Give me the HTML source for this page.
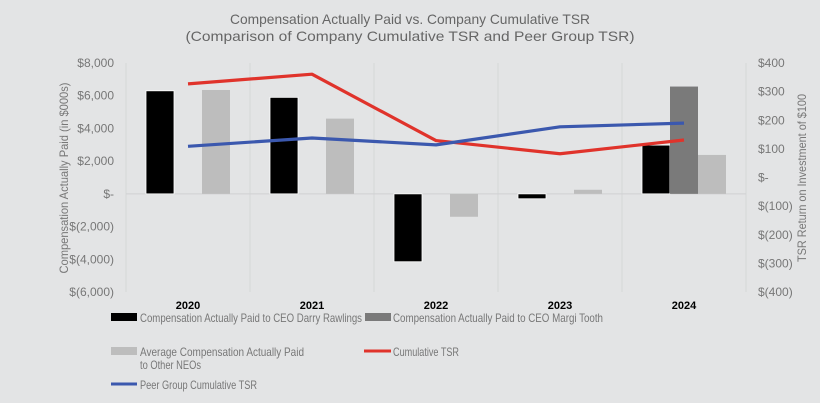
<!DOCTYPE html>
<html><head><meta charset="utf-8"><style>
body{margin:0;background:#e3e4e5;}
svg{display:block;font-family:"Liberation Sans",sans-serif;}
</style></head><body>
<svg id="chart" width="820" height="403" viewBox="0 0 820 403">
<rect width="820" height="403" fill="#e3e4e5"/>
<text x="410" y="24" text-anchor="middle" font-size="14" fill="#666" textLength="360" lengthAdjust="spacingAndGlyphs">Compensation Actually Paid vs. Company Cumulative TSR</text>
<text x="410" y="41" text-anchor="middle" font-size="14" fill="#666" textLength="449" lengthAdjust="spacingAndGlyphs">(Comparison of Company Cumulative TSR and Peer Group TSR)</text>
<g id="grid"></g><g id="bars"></g><g id="lines"></g><g id="axes"></g>
<text transform="translate(68,178) rotate(-90)" text-anchor="middle" font-size="12" fill="#777" textLength="191" lengthAdjust="spacingAndGlyphs">Compensation Actually Paid (in $000s)</text>
<text transform="translate(806,178) rotate(-90)" text-anchor="middle" font-size="12" fill="#777" textLength="168" lengthAdjust="spacingAndGlyphs">TSR Return on Investment of $100</text>
<g>
<rect x="111" y="313" width="26" height="8" fill="#000"/>
<text x="140" y="322" font-size="12" fill="#777" textLength="222" lengthAdjust="spacingAndGlyphs">Compensation Actually Paid to CEO Darry Rawlings</text>
<rect x="365" y="313" width="26" height="8" fill="#7a7a7a"/>
<text x="393" y="322" font-size="12" fill="#777" textLength="210" lengthAdjust="spacingAndGlyphs">Compensation Actually Paid to CEO Margi Tooth</text>
<rect x="111" y="347" width="26" height="8" fill="#bdbdbd"/>
<text x="140" y="356" font-size="12" fill="#777" textLength="164" lengthAdjust="spacingAndGlyphs">Average Compensation Actually Paid</text>
<text x="140" y="369" font-size="12" fill="#777" textLength="61" lengthAdjust="spacingAndGlyphs">to Other NEOs</text>
<line x1="364" y1="351" x2="391" y2="351" stroke="#e0332b" stroke-width="3"/>
<text x="393" y="356" font-size="12" fill="#777" textLength="66" lengthAdjust="spacingAndGlyphs">Cumulative TSR</text>
<line x1="111" y1="384" x2="137" y2="384" stroke="#3b58ae" stroke-width="3"/>
<text x="140" y="389" font-size="12" fill="#777" textLength="117" lengthAdjust="spacingAndGlyphs">Peer Group Cumulative TSR</text>
</g>
</svg>
<script>
const categories=["2020","2021","2022","2023","2024"];
const rawlings=[6300,5900,-4150,-300,2980];
const tooth=[0,0,0,0,6560];
const neos=[6350,4600,-1400,250,2380];
const tsr=[327,361,129,83,131];
const peerTsr=[109,138,114,177,190];
const leftTicks=[8000,6000,4000,2000,0,-2000,-4000,-6000];
const leftTickLabels=["$8,000","$6,000","$4,000","$2,000","$-","$(2,000)","$(4,000)","$(6,000)"];
const rightTicks=[400,300,200,100,0,-100,-200,-300,-400];
const rightTickLabels=["$400","$300","$200","$100","$-","$(100)","$(200)","$(300)","$(400)"];

const NS="http://www.w3.org/2000/svg";
const X0=126,X1=746,YT=63,YB=292;
const catW=(X1-X0)/categories.length;
const yL=v=>YT+(8000-v)/14000*(YB-YT);
const yR=v=>YT+(400-v)/800*(YB-YT);
const xC=i=>X0+catW*(i+0.5);
function mk(tag,attrs,parent){const e=document.createElementNS(NS,tag);for(const k in attrs)e.setAttribute(k,attrs[k]);document.getElementById(parent).appendChild(e);return e;}
for(let i=0;i<=categories.length;i++){
 const g=mk('line',{x1:X0+catW*i,x2:X0+catW*i,y1:YT,y2:YB,stroke:'#d6d7d8','stroke-width':1},'grid');
 
 
}
const zl=mk('line',{x1:X0,x2:X1,y1:yL(0),y2:yL(0),stroke:'#d0d1d2','stroke-width':1},'grid');


const bw=28;
const series=[[rawlings,'#000','bar-rawlings'],[tooth,'#7a7a7a','bar-tooth'],[neos,'#bdbdbd','bar-neos']];
series.forEach((s,si)=>{
 s[0].forEach((v,i)=>{
  if(v===0)return;
  const x=xC(i)-bw*1.5+si*bw;
  const y=Math.min(yL(v),yL(0)),h=Math.abs(yL(v)-yL(0));
  const r=mk('rect',{x:x,y:y,width:bw,height:h,fill:s[1],stroke:si===0?'#fff':'none','stroke-width':0.8},'bars');
  
  
 });
});
[[tsr,'#e0332b','line-cumulative-tsr'],[peerTsr,'#3b58ae','line-peer-tsr']].forEach(s=>{
 const p=mk('polyline',{points:s[0].map((v,i)=>xC(i)+','+yR(v)).join(' '),fill:'none',stroke:s[1],'stroke-width':3.2,'stroke-linejoin':'round'},'lines');
 
 
});
leftTicks.forEach((v,i)=>{
 const t=mk('text',{x:114,y:yL(v)+4,'text-anchor':'end','font-size':12,fill:'#777'},'axes');
 t.textContent=leftTickLabels[i];
 
 
});
rightTicks.forEach((v,i)=>{
 const t=mk('text',{x:758,y:yR(v)+4,'font-size':12,fill:'#777'},'axes');
 t.textContent=rightTickLabels[i];
 
 
});
categories.forEach((c,i)=>{
 const t=mk('text',{x:xC(i),y:309,'text-anchor':'middle','font-size':11,'font-weight':'bold',fill:'#000'},'axes');
 t.textContent=c;
 
 
});
</script>
</body></html>
